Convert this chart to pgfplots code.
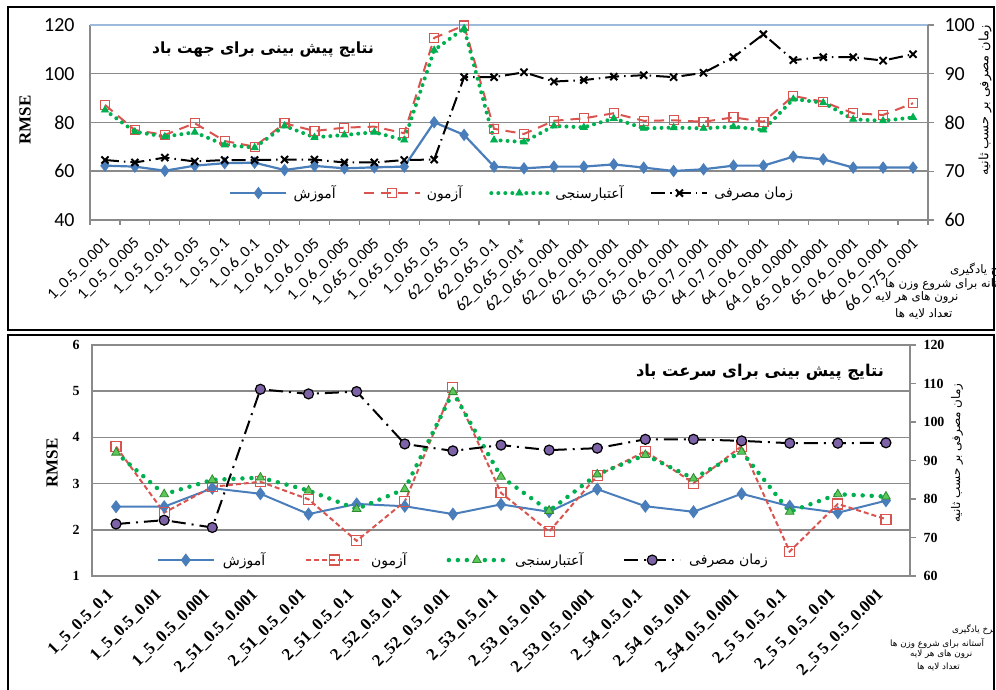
\documentclass[border=0pt]{standalone}
\usepackage{fontspec}
\usepackage{pgfplots}
\usepackage{pgfplotstable}
\pgfplotsset{compat=1.18}
\setmainfont{Liberation Serif}
\newfontfamily\fa[Script=Arabic]{DejaVu Sans}
\newfontfamily\carl{Carlito}
\newfontfamily\tnr{Liberation Serif}
\TeXXeTstate=1
\definecolor{cblue}{HTML}{4A7EBB}
\definecolor{cred}{HTML}{D9534F}
\definecolor{cgreen}{HTML}{00B050}
\definecolor{cgreenf}{HTML}{5CC85C}
\definecolor{cgreend}{HTML}{2E8B2E}
\definecolor{cpurple}{HTML}{7E62A8}
\definecolor{cgrid}{HTML}{8A8A8A}
\definecolor{ctop}{HTML}{9DB9DC}
\pgfplotsset{
  /pgf/number format/assume math mode=true,
  legend image code/.code={\draw[mark repeat=2,mark phase=2,#1] plot coordinates {(0bp,0bp) (28bp,0bp) (56bp,0bp)};},
}
\pgfplotstableread{
x train test valid time
0 62.3 87.2 85.1 72.3
1 61.9 76.9 76.2 71.8
2 60.2 74.9 74.2 72.8
3 62.3 79.7 76.0 72.0
4 63.3 72.4 70.8 72.3
5 63.5 70.1 69.7 72.3
6 60.5 79.7 78.6 72.4
7 62.2 76.5 73.9 72.4
8 61.2 77.9 74.9 71.8
9 61.6 78.3 76.0 71.8
10 61.9 75.6 72.8 72.3
11 80.1 114.7 109.7 72.4
12 74.9 119.8 118.6 89.3
13 61.9 77.4 72.8 89.3
14 61.2 75.3 72.0 90.3
15 61.9 80.7 78.6 88.4
16 61.9 81.7 78.0 88.7
17 62.8 83.8 81.7 89.4
18 61.5 80.7 77.6 89.7
19 60.1 80.9 77.9 89.3
20 60.8 80.3 77.6 90.2
21 62.3 82.1 78.3 93.4
22 62.3 80.3 76.9 98.1
23 66.0 90.9 89.6 92.8
24 64.9 88.5 88.1 93.4
25 61.5 83.8 81.3 93.4
26 61.5 83.1 80.7 92.7
27 61.5 87.9 82.1 94.0
}\topdata
\pgfplotstableread{
x train test valid time
0 2.50 3.80 3.67 73.5
1 2.50 2.37 2.77 74.5
2 2.90 2.93 3.08 72.6
3 2.78 3.04 3.13 108.5
4 2.34 2.66 2.85 107.3
5 2.56 1.76 2.45 107.9
6 2.51 2.61 2.88 94.3
7 2.34 5.08 4.98 92.5
8 2.55 2.80 3.15 94.0
9 2.39 1.96 2.41 92.7
10 2.88 3.17 3.20 93.2
11 2.51 3.70 3.62 95.5
12 2.39 3.01 3.11 95.5
13 2.78 3.81 3.69 95.1
14 2.51 1.53 2.39 94.5
15 2.37 2.56 2.77 94.5
16 2.63 2.23 2.72 94.6
}\botdata
\newsavebox\lgA
\newsavebox\lgB
\newsavebox\lgC
\newsavebox\lgD
\begin{document}
\sbox\lgA{\fa\fontsize{14}{14}\selectfont\beginR آموزش\endR}%
\sbox\lgB{\fa\fontsize{14}{14}\selectfont\beginR آزمون\endR}%
\sbox\lgC{\fa\fontsize{14}{14}\selectfont\beginR آعتبارسنجی\endR}%
\sbox\lgD{\fa\fontsize{14}{14}\selectfont\beginR زمان مصرفی\endR}%
\begin{tikzpicture}
\useasboundingbox (0bp,0bp) rectangle (996bp,690bp);
\draw[line width=2.5bp] (8bp,360bp) rectangle (994bp,683bp);
\draw[line width=2.5bp] (8bp,-20bp) rectangle (994bp,355bp);

% ================= TOP PANEL =================
\begin{axis}[
  at={(90bp,470bp)}, anchor=south west,
  width=838bp, height=195bp, scale only axis,
  xmin=-0.5, xmax=27.5, ymin=40, ymax=120,
  axis x line*=bottom, axis y line*=left,
  axis line style={cgrid, line width=1.2bp},
  ytick={40,60,80,100}, extra y ticks={120},
  extra y tick style={grid=major, major grid style={ctop, line width=1.2bp}},
  ymajorgrids, major grid style={cgrid, line width=1.5bp},
  xtick={0,...,27},
  xticklabels={1\_0.5\_0.001,1\_0.5\_0.005,1\_0.5\_0.01,1\_0.5\_0.05,1\_0.5\_0.1,1\_0.6\_0.1,1\_0.6\_0.01,1\_0.6\_0.05,1\_0.6\_0.005,1\_0.65\_0.005,1\_0.65\_0.05,1\_0.65\_0.5,62\_0.65\_0.5,62\_0.65\_0.1,62\_0.65\_0.01*,62\_0.65\_0.001,62\_0.6\_0.001,62\_0.5\_0.001,63\_0.5\_0.001,63\_0.6\_0.001,63\_0.7\_0.001,64\_0.7\_0.001,64\_0.6\_0.001,64\_0.6\_0.0001,65\_0.6\_0.0001,65\_0.6\_0.001,66\_0.6\_0.001,66\_0.75\_0.001},
  minor xtick={-0.5,0.5,...,27.5},
  major tick length=0pt, minor tick length=5bp, tick align=outside,
  tick style={cgrid, line width=1.2bp},
  xticklabel style={xshift=-2bp, yshift=-15bp, rotate=45, anchor=north east, inner sep=1bp, font=\carl\fontsize{16}{16}\selectfont},
  yticklabel style={xshift=-12bp, font=\carl\fontsize{20}{20}\selectfont},
  legend columns=4, legend cell align=left,
  legend style={at={(0.166,0.138)}, anchor=west, draw=none, fill=none, inner sep=0pt,
    /tikz/every odd column/.append style={column sep=4bp},
    /tikz/every even column/.append style={column sep=25bp}},
]
\addplot[cblue, line width=2.2bp, mark=diamond*, mark size=4.5bp, mark options={solid, fill=cblue}] table[x=x,y=train]{\topdata};
\addlegendentry{\usebox\lgA}
\addplot[cred, line width=2bp, dash pattern=on 10bp off 7bp, mark=square, mark size=4.5bp, mark options={solid, fill=white, line width=1.2bp}] table[x=x,y=test]{\topdata};
\addlegendentry{\usebox\lgB}
\addplot[cgreen, line width=4bp, line cap=round, dash pattern=on 0bp off 7bp, mark=triangle*, mark size=4bp, mark options={solid, fill=cgreen, draw=cgreen, line width=0.8bp}] table[x=x,y=valid]{\topdata};
\addlegendentry{\usebox\lgC}
\addlegendimage{black, line width=2bp, dash pattern=on 14bp off 5bp on 1.5bp off 5bp, mark=x, mark size=5bp, mark options={solid, line width=2bp}}
\addlegendentry{\usebox\lgD}
\end{axis}

\begin{axis}[
  at={(90bp,470bp)}, anchor=south west,
  width=838bp, height=195bp, scale only axis,
  xmin=-0.5, xmax=27.5, ymin=60, ymax=100,
  axis y line*=right, axis x line=none,
  axis line style={cgrid, line width=1.2bp},
  ytick={60,70,...,100}, tick align=outside, major tick length=6bp,
  tick style={cgrid, line width=1.2bp},
  yticklabel style={xshift=7bp, font=\carl\fontsize{20}{20}\selectfont},
]
\addplot[black, line width=2bp, dash pattern=on 14bp off 5bp on 1.5bp off 5bp, mark=x, mark size=5bp, mark options={solid, line width=2bp}] table[x=x,y=time]{\topdata};
\end{axis}

\node[font=\fa\bfseries\fontsize{15.5}{15.5}\selectfont] at (263bp,640bp) {\beginR نتایج پیش بینی برای جهت باد\endR};
\node[rotate=90, font=\tnr\bfseries\fontsize{17}{17}\selectfont] at (25bp,570bp) {RMSE};
\node[rotate=90, font=\fa\fontsize{13}{13}\selectfont] at (985bp,590bp) {\beginR زمان مصرفی بر حسب ثانیه\endR};
\begin{scope}[every node/.style={anchor=west, inner sep=0pt, font=\fa\fontsize{11.8}{11.8}\selectfont}]
\node at (950bp,420bp) {\beginR نرخ یادگیری\endR};
\node at (885bp,407bp) {\beginR آستانه برای شروع وزن ها\endR};
\node at (875bp,393bp) {\beginR نرون های هر لایه\endR};
\node at (895bp,376bp) {\beginR تعداد لایه ها\endR};
\end{scope}

% ================= BOTTOM PANEL =================
\begin{axis}[
  at={(92bp,114bp)}, anchor=south west,
  width=818bp, height=231bp, scale only axis,
  xmin=-0.5, xmax=16.5, ymin=1, ymax=6,
  axis line style={cgrid, line width=1.2bp},
  ytick={1,...,6}, ymajorgrids, major grid style={cgrid, line width=1.5bp},
  xtick={0,...,16},
  xticklabels={1\_5\_0.5\_0.1,1\_5\_0.5\_0.01,1\_5\_0.5\_0.001,2\_51\_0.5\_0.001,2\_51\_0.5\_0.01,2\_51\_0.5\_0.1,2\_52\_0.5\_0.1,2\_52\_0.5\_0.01,2\_53\_0.5\_0.1,2\_53\_0.5\_0.01,2\_53\_0.5\_0.001,2\_54\_0.5\_0.1,2\_54\_0.5\_0.01,2\_54\_0.5\_0.001,2\_5 5\_0.5\_0.1,2\_5 5\_0.5\_0.01,2\_5 5\_0.5\_0.001},
  major tick length=0pt,
  xticklabel style={xshift=-10bp, yshift=-10bp, rotate=45, anchor=north east, inner sep=1bp, font=\tnr\bfseries\fontsize{17}{17}\selectfont},
  yticklabel style={xshift=-9bp, font=\tnr\bfseries\fontsize{14}{14}\selectfont},
  legend columns=4, legend cell align=left,
  legend style={at={(0.079,0.069)}, anchor=west, draw=none, fill=none, inner sep=0pt,
    /tikz/every odd column/.append style={column sep=6bp},
    /tikz/every even column/.append style={column sep=38bp}},
]
\addplot[cblue, line width=2bp, mark=diamond*, mark size=5bp, mark options={solid, fill=cblue}] table[x=x,y=train]{\botdata};
\addlegendentry{\usebox\lgA}
\addplot[cred, line width=2bp, dash pattern=on 5bp off 3bp, mark=square, mark size=5bp, mark options={solid, fill=white, line width=1.2bp}] table[x=x,y=test]{\botdata};
\addlegendentry{\usebox\lgB}
\addplot[cgreen, line width=4.5bp, line cap=round, dash pattern=on 0bp off 9bp, mark=triangle*, mark size=5bp, mark options={solid, fill=cgreenf, draw=cgreend, line width=0.8bp}] table[x=x,y=valid]{\botdata};
\addlegendentry{\usebox\lgC}
\addlegendimage{black, line width=2bp, dash pattern=on 14bp off 6bp on 2bp off 6bp, mark=*, mark size=5bp, mark options={solid, fill=cpurple, draw=black, line width=1.2bp}}
\addlegendentry{\usebox\lgD}
\end{axis}

\begin{axis}[
  at={(92bp,114bp)}, anchor=south west,
  width=818bp, height=231bp, scale only axis,
  xmin=-0.5, xmax=16.5, ymin=60, ymax=120,
  axis y line*=right, axis x line=none,
  axis line style={cgrid, line width=1.2bp},
  ytick={60,70,...,120}, tick align=outside, major tick length=6bp,
  tick style={cgrid, line width=1.2bp},
  yticklabel style={xshift=4bp, font=\tnr\bfseries\fontsize{14}{14}\selectfont},
]
\addplot[black, line width=2bp, dash pattern=on 14bp off 6bp on 2bp off 6bp, mark=*, mark size=5bp, mark options={solid, fill=cpurple, draw=black, line width=1.2bp}] table[x=x,y=time]{\botdata};
\end{axis}

\node[font=\fa\bfseries\fontsize{16.3}{16.3}\selectfont] at (760bp,318bp) {\beginR نتایج پیش بینی برای سرعت باد\endR};
\node[rotate=90, font=\tnr\bfseries\fontsize{17}{17}\selectfont] at (52bp,227bp) {RMSE};
\node[rotate=90, font=\fa\fontsize{12}{12}\selectfont] at (957bp,237bp) {\beginR زمان مصرفی بر حسب ثانیه\endR};
\begin{scope}[every node/.style={anchor=west, inner sep=0pt, font=\fa\fontsize{8.8}{8.8}\selectfont}]
\node at (952bp,60bp) {\beginR نرخ یادگیری\endR};
\node at (890bp,47bp) {\beginR آستانه برای شروع وزن ها\endR};
\node at (910bp,36bp) {\beginR نرون های هر لایه\endR};
\node at (917bp,23bp) {\beginR تعداد لایه ها\endR};
\end{scope}
\end{tikzpicture}
\end{document}
